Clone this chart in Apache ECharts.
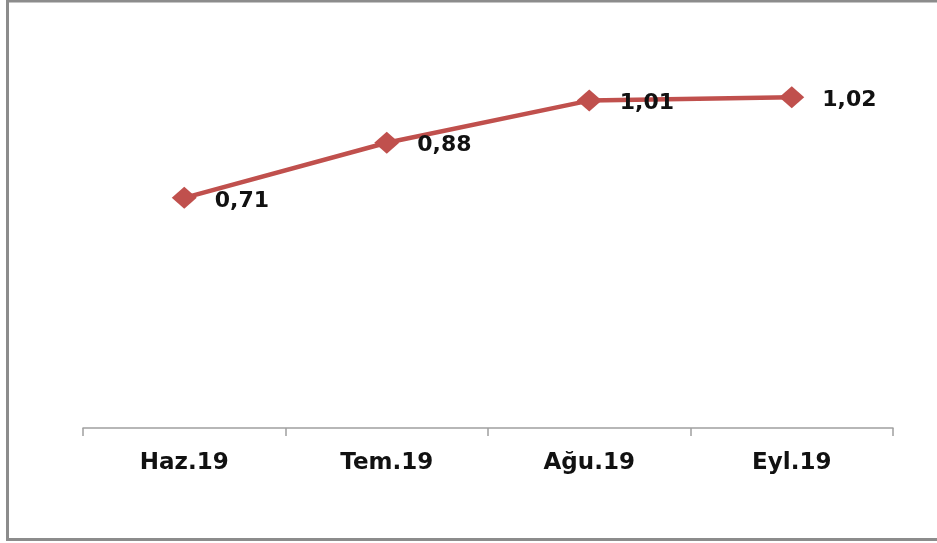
<!DOCTYPE html>
<html>
<head>
<meta charset="utf-8">
<script src="https://cdn.jsdelivr.net/npm/echarts@6/dist/echarts.min.js"></script>
<style>
html,body{margin:0;padding:0;background:#fff;}
#chart{width:937px;height:543px;}
</style>
</head>
<body>
<div id="chart"></div>
<script>
const categories = ['Haz.19', 'Tem.19', 'Ağu.19', 'Eyl.19'];
const values = [0.71, 0.88, 1.01, 1.02];

const chart = echarts.init(document.getElementById('chart'));
chart.setOption({
  animation: false,
  backgroundColor: '#ffffff',
  graphic: [{
    type: 'rect',
    shape: { x: 7.5, y: 1, width: 1000, height: 538.5 },
    style: { fill: 'none', stroke: '#8c8c8c', lineWidth: 3 },
    silent: true
  }],
  grid: { left: 83, right: 44, top: 39, bottom: 115 },
  xAxis: {
    type: 'category',
    data: categories,
    boundaryGap: true,
    axisLine: { lineStyle: { color: '#a0a0a0', width: 1.5 } },
    axisTick: { show: true, length: 8, lineStyle: { color: '#a0a0a0', width: 1.5 } },
    axisLabel: {
      margin: 24,
      fontFamily: 'DejaVu Sans',
      fontWeight: 'bold',
      fontSize: 23,
      color: '#111111'
    }
  },
  yAxis: {
    type: 'value',
    min: 0,
    max: 1.2,
    show: false
  },
  series: [{
    type: 'line',
    data: values,
    symbol: 'diamond',
    symbolSize: [25, 22],
    lineStyle: { color: '#C0504D', width: 4.5 },
    itemStyle: { color: '#C0504D' },
    label: {
      show: true,
      position: 'right',
      distance: 18,
      offset: [0, 3],
      formatter: p => p.value.toFixed(2).replace('.', ','),
      fontFamily: 'DejaVu Sans',
      fontWeight: 'bold',
      fontSize: 22,
      color: '#111111'
    }
  }]
});
</script>
</body>
</html>
